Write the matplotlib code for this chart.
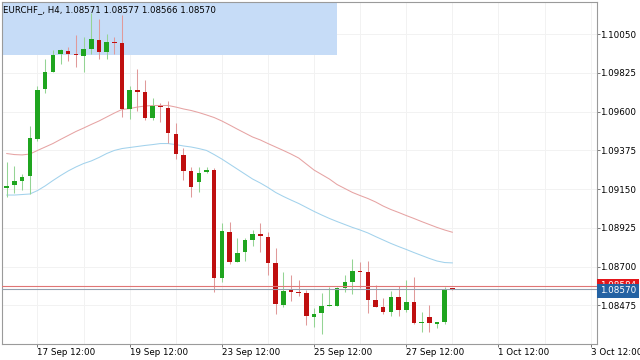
import matplotlib
matplotlib.use('Agg')
import matplotlib.pyplot as plt
import matplotlib.transforms as mtransforms
from matplotlib.patches import Rectangle

title = 'EURCHF_, H4, 1.08571 1.08577 1.08566 1.08570'

opens = [1.09158, 1.09172, 1.09197, 1.09226, 1.09440, 1.09729, 1.09831, 1.09932, 1.09950, 1.09935,
         1.09924, 1.09961, 1.10018, 1.09947, 1.10002, 1.09998, 1.09615, 1.09723, 1.09715, 1.09564,
         1.09632, 1.09622, 1.09469, 1.09349, 1.09255, 1.09191, 1.09247, 1.09259, 1.08635, 1.08902,
         1.08725, 1.08784, 1.08854, 1.08889, 1.08873, 1.08722, 1.08478, 1.08564, 1.08552, 1.08545,
         1.08409, 1.08429, 1.08473, 1.08473, 1.08577, 1.08612, 1.08676, 1.08670, 1.08506, 1.08463,
         1.08438, 1.08525, 1.08448, 1.08494, 1.08370, 1.08405, 1.08368, 1.08378, 1.08571]
highs = [1.09309, 1.09285, 1.09237, 1.09516, 1.09750, 1.09905, 1.09957, 1.09961, 1.09973, 1.10042,
         1.10034, 1.10170, 1.10137, 1.10048, 1.10034, 1.10160, 1.09748, 1.09847, 1.09783, 1.09677,
         1.09651, 1.09661, 1.09532, 1.09391, 1.09280, 1.09280, 1.09280, 1.09270, 1.08951, 1.08960,
         1.08864, 1.08867, 1.08912, 1.08954, 1.08899, 1.08806, 1.08670, 1.08651, 1.08622, 1.08564,
         1.08458, 1.08548, 1.08580, 1.08580, 1.08651, 1.08742, 1.08728, 1.08732, 1.08593, 1.08519,
         1.08560, 1.08587, 1.08622, 1.08638, 1.08438, 1.08477, 1.08380, 1.08580, 1.08577]
lows = [1.09105, 1.09125, 1.09144, 1.09121, 1.09431, 1.09706, 1.09829, 1.09876, 1.09891, 1.09860,
        1.09831, 1.09932, 1.09907, 1.09905, 1.09932, 1.09566, 1.09555, 1.09605, 1.09551, 1.09551,
        1.09541, 1.09419, 1.09323, 1.09202, 1.09105, 1.09134, 1.09241, 1.08550, 1.08612, 1.08713,
        1.08725, 1.08732, 1.08819, 1.08783, 1.08651, 1.08424, 1.08463, 1.08502, 1.08531, 1.08361,
        1.08347, 1.08308, 1.08471, 1.08471, 1.08554, 1.08541, 1.08574, 1.08429, 1.08463, 1.08423,
        1.08413, 1.08413, 1.08438, 1.08366, 1.08322, 1.08322, 1.08341, 1.08366, 1.08566]
closes = [1.09169, 1.09195, 1.09222, 1.09445, 1.09725, 1.09831, 1.09930, 1.09955, 1.09934, 1.09928,
          1.09961, 1.10019, 1.09946, 1.10002, 1.09998, 1.09613, 1.09725, 1.09715, 1.09564, 1.09632,
          1.09624, 1.09474, 1.09353, 1.09256, 1.09160, 1.09245, 1.09259, 1.08635, 1.08906, 1.08725,
          1.08779, 1.08854, 1.08891, 1.08879, 1.08722, 1.08481, 1.08560, 1.08554, 1.08546, 1.08413,
          1.08423, 1.08471, 1.08478, 1.08575, 1.08610, 1.08676, 1.08668, 1.08506, 1.08467, 1.08436,
          1.08521, 1.08448, 1.08496, 1.08370, 1.08376, 1.08370, 1.08378, 1.08564, 1.08570]

ma_red = [1.09356, 1.09350, 1.09348, 1.09353, 1.09374, 1.09394, 1.09414, 1.09438, 1.09461, 1.09484,
          1.09504, 1.09525, 1.09545, 1.09568, 1.09591, 1.09612, 1.09617, 1.09626, 1.09632, 1.09635,
          1.09635, 1.09635, 1.09626, 1.09615, 1.09606, 1.09594, 1.09580, 1.09565, 1.09545, 1.09522,
          1.09498, 1.09475, 1.09452, 1.09435, 1.09414, 1.09394, 1.09374, 1.09353, 1.09330, 1.09295,
          1.09260, 1.09234, 1.09208, 1.09176, 1.09153, 1.09130, 1.09112, 1.09095, 1.09075, 1.09051,
          1.09031, 1.09014, 1.08996, 1.08979, 1.08961, 1.08944, 1.08927, 1.08912, 1.08899]
ma_blue = [1.09115, 1.09115, 1.09118, 1.09121, 1.09141, 1.09168, 1.09199, 1.09228, 1.09255, 1.09278,
           1.09298, 1.09313, 1.09333, 1.09356, 1.09374, 1.09385, 1.09391, 1.09397, 1.09403, 1.09408,
           1.09414, 1.09414, 1.09408, 1.09400, 1.09394, 1.09385, 1.09374, 1.09350, 1.09324, 1.09295,
           1.09266, 1.09237, 1.09208, 1.09185, 1.09159, 1.09130, 1.09107, 1.09086, 1.09066, 1.09043,
           1.09020, 1.08999, 1.08979, 1.08961, 1.08944, 1.08927, 1.08912, 1.08895, 1.08874, 1.08854,
           1.08834, 1.08816, 1.08799, 1.08781, 1.08764, 1.08747, 1.08732, 1.08723, 1.08721]

price_ticks = [1.08475, 1.08700, 1.08925, 1.09150, 1.09375, 1.09600, 1.09825, 1.10050]
price_tick_labels = ['1.08475', '1.08700', '1.08925', '1.09150', '1.09375', '1.09600', '1.09825', '1.10050']
date_tick_bars = [4, 16, 28, 40, 52, 64, 76]
date_tick_labels = ['17 Sep 12:00', '19 Sep 12:00', '23 Sep 12:00', '25 Sep 12:00',
                    '27 Sep 12:00', '1 Oct 12:00', '3 Oct 12:00']
grid_bars = [4, 10, 16, 22, 28, 34, 40, 46, 52, 58, 64, 70, 76]

zone_end_bar = 43.0
zone_low = 1.09928
bid = 1.08570
ask = 1.08584

x_min, x_max = -0.62, 76.83
y_min, y_max = 1.08250, 1.10236

fig = plt.figure(figsize=(6.4, 3.6), dpi=100)
ax = fig.add_axes([2 / 640, 16 / 360, 595 / 640, 342 / 360])
ax.set_xlim(x_min, x_max)
ax.set_ylim(y_min, y_max)

# grid
for gb in grid_bars:
    ax.axvline(gb, color='#f2f2f2', lw=0.7, zorder=0)
for pt in price_ticks:
    ax.axhline(pt, color='#f2f2f2', lw=0.7, zorder=0)

# zone rectangle
ax.add_patch(Rectangle((x_min - 1, zone_low), zone_end_bar - x_min + 1, y_max + 0.01 - zone_low,
                       facecolor='#c6dcf7', edgecolor='none', zorder=0.5))

# moving averages
ax.plot(range(len(ma_red)), ma_red, color='#e6a3a3', lw=0.75, zorder=1)
ax.plot(range(len(ma_blue)), ma_blue, color='#a2d2ec', lw=0.75, zorder=1)

# candles
body_w = 0.59
min_h = 0.00006
for i, (o, h, l, c) in enumerate(zip(opens, highs, lows, closes)):
    up = c > o
    body_col = '#1fa51f' if up else '#bf0f0f'
    wick_col = '#94d494' if up else '#e09a9a'
    ax.vlines(i, l, h, color=wick_col, lw=0.75, zorder=2)
    bottom = min(o, c)
    height = max(abs(c - o), min_h)
    ax.bar(i, height, bottom=bottom, width=body_w, color=body_col, edgecolor='none', zorder=3)

# bid/ask lines
ax.axhline(ask, color='#e07575', lw=0.8, zorder=4)
ax.axhline(bid, color='#94a0ae', lw=0.8, zorder=4)

# title
ax.text(0.002, 0.979, title, transform=ax.transAxes, fontsize=6.25, color='black',
        ha='left', va='center', zorder=6)

# axes styling
for side in ['left', 'right', 'top', 'bottom']:
    ax.spines[side].set_color('#9a9a9a')
    ax.spines[side].set_linewidth(0.8)
ax.yaxis.tick_right()
ax.set_yticks(price_ticks)
ax.set_yticklabels(price_tick_labels)
ax.set_xticks(date_tick_bars)
ax.set_xticklabels(date_tick_labels)
ax.tick_params(axis='y', which='both', length=2.0, width=0.7, color='#777777', pad=0.5,
               labelsize=6.3, labelcolor='black')
ax.tick_params(axis='x', which='both', length=2.0, width=0.7, color='#777777', pad=0.8,
               labelsize=6.3, labelcolor='black')
for lbl in ax.get_xticklabels():
    lbl.set_horizontalalignment('left')

# price labels
trans = mtransforms.blended_transform_factory(ax.transAxes, ax.transData)
ax.annotate(f'{ask:.5f}', xy=(1.0, ask), xycoords=trans, xytext=(2.2, 0.5), textcoords='offset points',
            fontsize=6.3, color='white', ha='left', va='center', annotation_clip=False,
            bbox=dict(boxstyle='square,pad=0.3', fc='#e3161b', ec='none'), zorder=7)
ax.annotate(f'{bid:.5f}', xy=(1.0, bid), xycoords=trans, xytext=(2.2, -1.5), textcoords='offset points',
            fontsize=6.3, color='white', ha='left', va='center', annotation_clip=False,
            bbox=dict(boxstyle='square,pad=0.3', fc='#2462a3', ec='none'), zorder=8)

fig.savefig('out.png', dpi=100)
